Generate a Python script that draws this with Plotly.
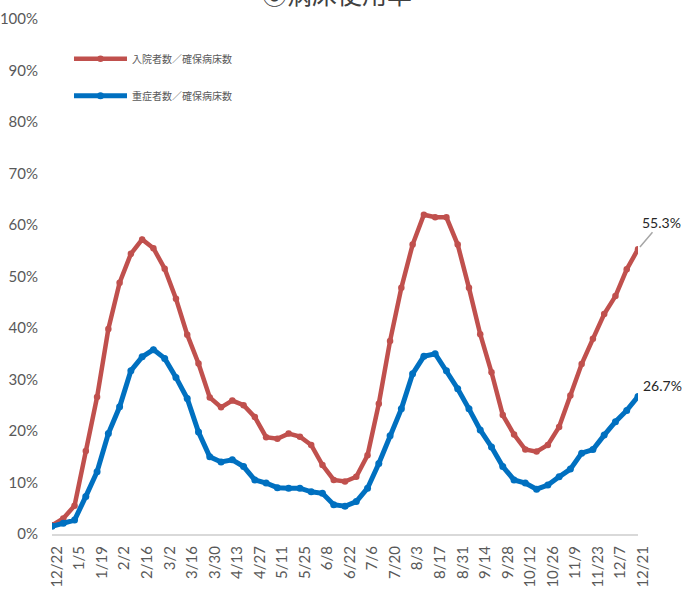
import plotly.graph_objects as go

# Weekly dates (m/d)
weeks = [
    "12/22", "12/29", "1/5", "1/12", "1/19", "1/26", "2/2", "2/9", "2/16", "2/23",
    "3/2", "3/9", "3/16", "3/23", "3/30", "4/6", "4/13", "4/20", "4/27", "5/4",
    "5/11", "5/18", "5/25", "6/1", "6/8", "6/15", "6/22", "6/29", "7/6", "7/13",
    "7/20", "7/27", "8/3", "8/10", "8/17", "8/24", "8/31", "9/7", "9/14", "9/21",
    "9/28", "10/5", "10/12", "10/19", "10/26", "11/2", "11/9", "11/16", "11/23", "11/30",
    "12/7", "12/14", "12/21",
]

# 入院者数／確保病床数 (%)
inpatient = [
    1.7, 3.0, 5.5, 16.1, 26.6, 39.8, 48.8, 54.4, 57.2, 55.5,
    51.5, 45.7, 38.7, 33.1, 26.5, 24.6, 25.9, 25.0, 22.7, 18.8,
    18.5, 19.5, 18.9, 17.3, 13.4, 10.5, 10.2, 11.1, 15.3, 25.3,
    37.5, 47.8, 56.2, 62.0, 61.5, 61.5, 56.2, 47.8, 38.8, 31.4,
    23.1, 19.3, 16.4, 16.0, 17.3, 20.8, 26.9, 33.0, 37.9, 42.7,
    46.2, 51.4, 55.3,
]

# 重症者数／確保病床数 (%)
severe = [
    1.5, 2.1, 2.7, 7.3, 12.1, 19.5, 24.7, 31.7, 34.4, 35.8,
    34.1, 30.4, 26.3, 19.8, 15.0, 14.0, 14.4, 13.1, 10.5, 9.9,
    9.0, 8.9, 8.9, 8.2, 7.9, 5.7, 5.4, 6.3, 8.9, 13.7,
    19.1, 24.3, 31.1, 34.5, 35.0, 31.7, 28.2, 24.3, 20.2, 16.9,
    13.1, 10.5, 9.9, 8.7, 9.5, 11.1, 12.6, 15.7, 16.4, 19.2,
    21.8, 24.0, 26.7,
]

tick_labels = weeks[::2]

RED = "#C0504D"
BLUE = "#0070C0"
GRAY_TEXT = "#595959"
NUM_FONT = "Lato"
JP_FONT = "Noto Sans CJK JP"

fig = go.Figure()
fig.add_trace(go.Scatter(
    x=weeks, y=inpatient, name="入院者数／確保病床数", legendgroup="a",
    mode="lines+markers",
    line=dict(color=RED, width=4.5),
    marker=dict(color=RED, size=6.5),
))
fig.add_trace(go.Scatter(
    x=weeks, y=severe, name="重症者数／確保病床数", legendgroup="b",
    mode="lines+markers",
    line=dict(color=BLUE, width=5),
    marker=dict(color=BLUE, size=7),
))

# end-point value labels
fig.add_annotation(
    x=weeks[-1], y=inpatient[-1], text=f"{inpatient[-1]:.1f}%",
    showarrow=True, arrowhead=0, arrowwidth=1.5, arrowcolor="#A6A6A6",
    ax=23, ay=-27, standoff=3,
    font=dict(family=NUM_FONT, size=14, color="#262626"),
)
fig.add_annotation(
    x=weeks[-1], y=severe[-1], text=f"{severe[-1]:.1f}%",
    showarrow=False, xanchor="left", yanchor="middle", xshift=3, yshift=11,
    font=dict(family=NUM_FONT, size=14, color="#262626"),
)

# chart title (sits above the plot area, partly beyond the top edge)
fig.add_annotation(
    xref="paper", yref="paper", x=0.487, y=1.0, yanchor="bottom",
    yshift=6, text="⑥病床使用率", showarrow=False,
    font=dict(family=JP_FONT, size=25, color="#404040"),
)

fig.update_layout(
    width=687, height=599,
    margin=dict(l=52, r=49, t=19, b=65, autoexpand=False),
    paper_bgcolor="white", plot_bgcolor="white",
    showlegend=True,
    legend=dict(
        x=0.029, y=0.951, xanchor="left", yanchor="top",
        font=dict(family=JP_FONT, size=10, color=GRAY_TEXT),
        itemwidth=53, tracegroupgap=18, bgcolor="rgba(0,0,0,0)",
    ),
    xaxis=dict(
        type="category", range=[0, len(weeks) - 1], automargin=False,
        tickmode="array", tickvals=tick_labels, ticktext=tick_labels,
        tickangle=-90, ticks="", showgrid=False, zeroline=False,
        showline=True, linecolor="#D9D9D9", linewidth=2,
        tickfont=dict(family=NUM_FONT, size=15, color=GRAY_TEXT),
        ticklabelstandoff=4, ticklabelshift=5,
    ),
    yaxis=dict(
        range=[0, 100], dtick=10, ticksuffix="%", automargin=False,
        showgrid=False, zeroline=False, showline=False, ticks="",
        tickfont=dict(family=NUM_FONT, size=15, color=GRAY_TEXT),
        ticklabelstandoff=13,
    ),
)

fig.write_html("out.html")
